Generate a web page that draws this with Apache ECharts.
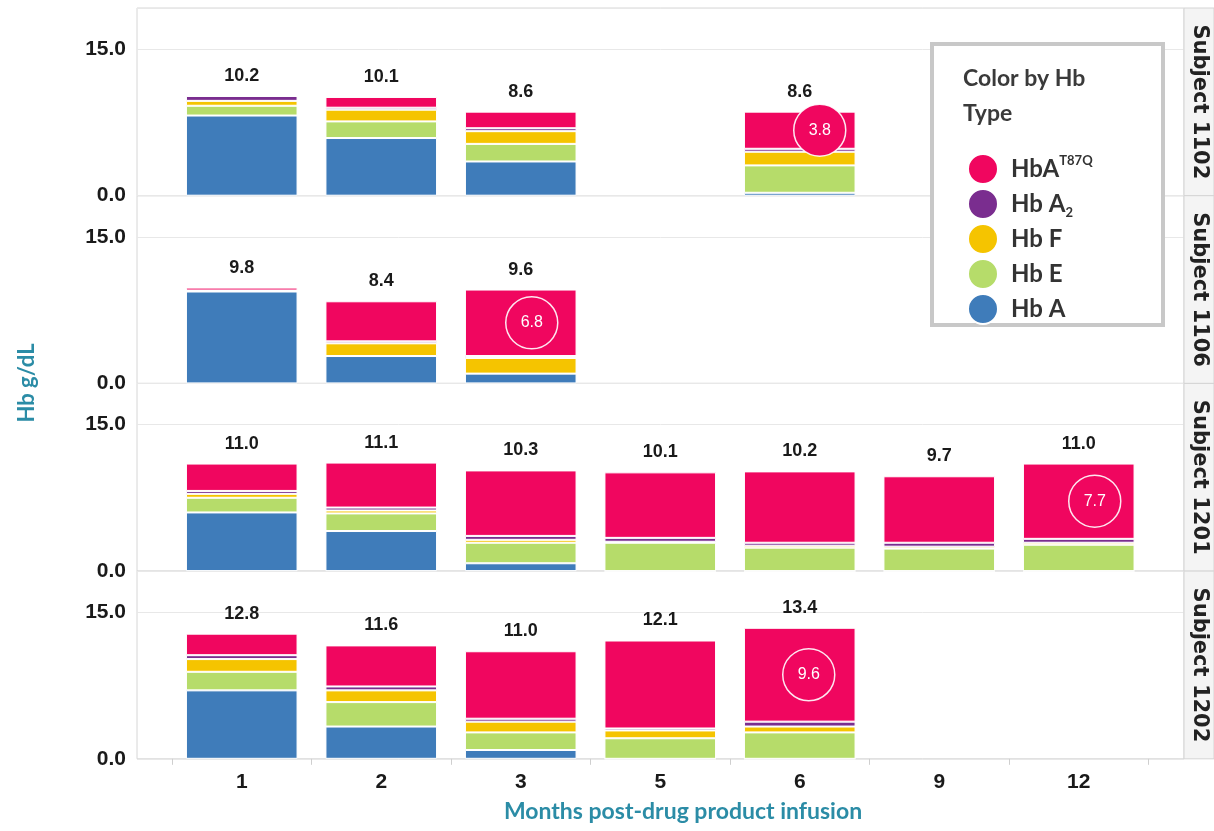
<!DOCTYPE html>
<html>
<head>
<meta charset="utf-8">
<script src="https://cdn.jsdelivr.net/npm/echarts@6/dist/echarts.min.js"></script>
<style>
  html, body { margin: 0; padding: 0; background: #fff; }
  #chart { width: 1214px; height: 831px; }
</style>
</head>
<body>
<div id="chart"></div>
<script>
// months post infusion (x categories) and the four subject panels
var months = ['1', '2', '3', '5', '6', '9', '12'];
var subjects = ['Subject 1102', 'Subject 1106', 'Subject 1201', 'Subject 1202'];

// Hb g/dL by type, one row per subject, null = no visit
var hbA = [
  [8.2, 5.9, 3.5, null, 0.3, null, null],
  [9.4, 2.8, 1.0, null, null, null, null],
  [6.0, 4.1, 0.8, 0, 0, 0, 0],
  [7.0, 3.3, 0.9, 0, 0, null, null]
];
var hbE = [
  [1.0, 1.7, 1.8, null, 2.8, null, null],
  [0, 0, 0, null, null, null, null],
  [1.5, 1.8, 2.1, 2.9, 2.4, 2.3, 2.7],
  [1.9, 2.5, 1.8, 2.1, 2.7, null, null]
];
var hbF = [
  [0.5, 1.2, 1.3, null, 1.4, null, null],
  [0.1, 1.3, 1.6, null, null, null, null],
  [0.4, 0.3, 0.3, 0.1, 0.2, 0.2, 0.2],
  [1.3, 1.2, 1.1, 0.8, 0.6, null, null]
];
var hbA2 = [
  [0.5, 0.2, 0.3, null, 0.3, null, null],
  [0, 0.2, 0.2, null, null, null, null],
  [0.3, 0.3, 0.4, 0.4, 0.3, 0.4, 0.4],
  [0.4, 0.4, 0.3, 0.2, 0.5, null, null]
];
var hbT87Q = [
  [0, 1.1, 1.7, null, 3.8, null, null],
  [0.3, 4.1, 6.8, null, null, null, null],
  [2.8, 4.6, 6.7, 6.7, 7.3, 6.8, 7.7],
  [2.2, 4.2, 6.9, 9.0, 9.6, null, null]
];
// printed total Hb above each bar
var totals = [
  [10.2, 10.1, 8.6, null, 8.6, null, null],
  [9.8, 8.4, 9.6, null, null, null, null],
  [11.0, 11.1, 10.3, 10.1, 10.2, 9.7, 11.0],
  [12.8, 11.6, 11.0, 12.1, 13.4, null, null]
];
// circled HbA-T87Q value: month index per subject
var callouts = [4, 2, 6, 4];

// layout / style
var panelTop = 8, panelH = 187.7, yMax = 19.2;
var frameLeft = 137, frameRight = 30, dataLeft = 172, dataW = 976.5;
var calloutShift = [20, 11, 16, 9];
var teal = '#2b8ca6';
var numFont = '"Liberation Sans", Arial, sans-serif';

var types = [
  { name: 'Hb A', data: hbA, color: '#3f7cba' },
  { name: 'Hb E', data: hbE, color: '#b6dc6a' },
  { name: 'Hb F', data: hbF, color: '#f5c400' },
  { name: 'Hb A2', data: hbA2, color: '#7a2d8f' },
  { name: 'HbA T87Q', data: hbT87Q, color: '#f0065f' }
];

var chart = echarts.init(document.getElementById('chart'), null, { renderer: 'canvas' });

var grids = [], xAxes = [], yAxes = [], series = [], graphics = [];

subjects.forEach(function (subj, s) {
  var top = panelTop + s * panelH;
  var last = s === subjects.length - 1;
  // frame grid: border, y labels, 15.0 gridline
  grids.push({ left: frameLeft, right: frameRight, top: top, height: panelH,
    show: true, borderColor: '#d6d6d6', borderWidth: 1 });
  xAxes.push({ gridIndex: 2 * s, type: 'value', show: false });
  yAxes.push({
    gridIndex: 2 * s, type: 'value', min: 0, max: yMax, interval: 15,
    axisLine: { show: false }, axisTick: { show: false },
    axisLabel: { showMaxLabel: false, margin: 11, color: '#1a1a1a', fontFamily: numFont,
      fontWeight: 'bold', fontSize: 21,
      formatter: function (v) { return (v === 0 || v === 15) ? v.toFixed(1) : ''; } },
    splitLine: { lineStyle: { color: '#e8e8e8' } }
  });
  // data grid: the bars
  grids.push({ left: dataLeft, width: dataW, top: top, height: panelH });
  xAxes.push({
    gridIndex: 2 * s + 1, type: 'category', data: months,
    axisLine: { show: false },
    axisTick: { show: last, length: 6, lineStyle: { color: '#cfcfcf' } },
    axisLabel: { show: last, margin: 13, color: '#1a1a1a', fontFamily: numFont,
      fontWeight: 'bold', fontSize: 21 }
  });
  yAxes.push({ gridIndex: 2 * s + 1, type: 'value', min: 0, max: yMax, show: false,
    splitLine: { show: false } });

  types.forEach(function (t) {
    series.push({
      name: t.name, type: 'bar', stack: 'p' + s,
      xAxisIndex: 2 * s + 1, yAxisIndex: 2 * s + 1,
      barWidth: '80%', data: t.data[s],
      itemStyle: { color: t.color, borderColor: '#fff', borderWidth: 1 }
    });
  });

  // totals above bars
  series.push({
    type: 'scatter', xAxisIndex: 2 * s + 1, yAxisIndex: 2 * s + 1,
    symbolSize: 0, itemStyle: { color: '#1a1a1a', opacity: 1 }, silent: true, z: 5,
    data: totals[s].map(function (v, i) { return v == null ? null : [i, v]; }),
    label: { show: true, position: 'top', distance: 11, color: '#1a1a1a',
      fontFamily: numFont, fontWeight: 'bold', fontSize: 18,
      formatter: function (p) { return p.value[1].toFixed(1); } }
  });

  // circled HbA-T87Q value
  var m = callouts[s];
  var t87 = hbT87Q[s][m];
  series.push({
    type: 'scatter', xAxisIndex: 2 * s + 1, yAxisIndex: 2 * s + 1, z: 6,
    symbol: 'circle', symbolSize: 52, symbolOffset: [calloutShift[s], 0],
    itemStyle: { color: '#f0065f', opacity: 1, borderColor: 'rgba(255,255,255,0.9)', borderWidth: 1.5 },
    data: [[m, totals[s][m] - t87 / 2]],
    label: { show: true, position: 'inside', color: '#fff',
      fontFamily: numFont, fontSize: 16,
      formatter: function () { return t87.toFixed(1); } }
  });

  // facet strip on the right
  graphics.push({ type: 'rect', shape: { x: 1184, y: top, width: 30, height: panelH },
    style: { fill: '#f4f4f4', stroke: '#d4d4d4', lineWidth: 1 }, z: 1 });
  graphics.push({ type: 'text', x: 1199, y: top + panelH / 2, rotation: -Math.PI / 2, z: 2,
    style: { text: subj, fill: '#222', font: 'bold 21px "DejaVu Sans"',
      align: 'center', verticalAlign: 'middle', textAlign: 'center', textVerticalAlign: 'middle' } });
});

// axis titles and legend box
graphics.push({ type: 'text', x: 27, y: 383, rotation: Math.PI / 2, z: 2,
  style: { text: 'Hb g/dL', fill: teal, font: 'bold 22px Lato',
    align: 'center', verticalAlign: 'middle', textAlign: 'center', textVerticalAlign: 'middle' } });
graphics.push({ type: 'text', x: 683, y: 812, z: 2,
  style: { text: 'Months post-drug product infusion', fill: teal, font: 'bold 23px Lato',
    align: 'center', verticalAlign: 'middle', textAlign: 'center', textVerticalAlign: 'middle' } });
graphics.push({ type: 'rect', shape: { x: 932, y: 44, width: 231, height: 281 }, z: 10,
  style: { fill: '#fff', stroke: '#c8c8c8', lineWidth: 4 } });

var legendText = { 'HbA T87Q': '{n|HbA}{sup|T87Q}', 'Hb A2': '{n|Hb A}{sub|2}' };

var option = {
  backgroundColor: '#fff',
  animation: false,
  title: {
    text: 'Color by Hb\nType', left: 958, top: 56, z: 20,
    textStyle: { fontFamily: 'Lato', fontWeight: 'bold', fontSize: 23, lineHeight: 35, color: '#3a3a3a' }
  },
  legend: {
    data: ['HbA T87Q', 'Hb A2', 'Hb F', 'Hb E', 'Hb A'],
    orient: 'vertical', left: 962, top: 148, z: 20,
    icon: 'circle', itemWidth: 30, itemHeight: 30, itemGap: 3,
    selectedMode: false,
    formatter: function (name) { return legendText[name] || '{n|' + name + '}'; },
    textStyle: {
      padding: [0, 0, 0, 8],
      rich: {
        n: { fontFamily: 'Lato', fontWeight: 'bold', fontSize: 24, color: '#333', lineHeight: 30 },
        sup: { fontFamily: 'Lato', fontWeight: 'bold', fontSize: 13, color: '#333', lineHeight: 14, verticalAlign: 'top' },
        sub: { fontFamily: 'Lato', fontWeight: 'bold', fontSize: 13, color: '#333', lineHeight: 14, verticalAlign: 'bottom' }
      }
    }
  },
  grid: grids,
  xAxis: xAxes,
  yAxis: yAxes,
  graphic: graphics,
  series: series
};

chart.setOption(option);
</script>
</body>
</html>
